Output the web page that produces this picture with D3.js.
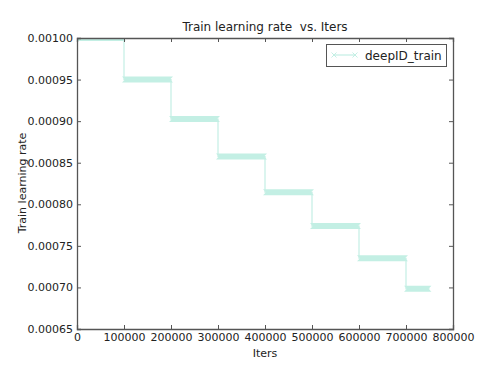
<html>
<script src='https://d3js.org/d3.v7.min.js'></script>
<style>
body {margin: 0; background: white;}
text {font-family: "DejaVu Sans", sans-serif; fill: #222; white-space: pre;}
</style>
<body>
<svg width=487 height=368></svg>
<script>
// step starts / ends (iters) and learning rate held on each step
var stepStart = [0, 100000, 200000, 300000, 400000, 500000, 600000, 700000];
var stepEnd   = [100000, 200000, 300000, 400000, 500000, 600000, 700000, 750000];
var lrValues  = [0.001, 0.00095, 0.0009025, 0.000857375, 0.00081450625, 0.000773781, 0.000735092, 0.000698337];
var xTicks = [0, 100000, 200000, 300000, 400000, 500000, 600000, 700000, 800000];
var yTicks = [0.00065, 0.00070, 0.00075, 0.00080, 0.00085, 0.00090, 0.00095, 0.00100];

var mLeft = 77, mRight = 453, mTop = 38, mBottom = 329;
var x = d3.scaleLinear().domain([0, 800000]).range([mLeft, mRight]);
var y = d3.scaleLinear().domain([0.00065, 0.001]).range([mBottom, mTop]);

var svg = d3.select("svg");
svg.append("clipPath").attr("id", "clip")
  .append("rect").attr("x", mLeft).attr("y", mTop).attr("width", mRight - mLeft).attr("height", mBottom - mTop);

var col = "#c3efe4";
var plot = svg.append("g").attr("clip-path", "url(#clip)");

// thin step line
var pts = [];
lrValues.forEach(function(v, i) { pts.push([stepStart[i], v]); pts.push([stepEnd[i], v]); });
plot.append("path")
  .attr("d", d3.line().x(d => x(d[0])).y(d => y(d[1]))(pts))
  .attr("fill", "none").attr("stroke", col).attr("stroke-width", 1.2);

// thick bands (dense x markers in the original)
plot.selectAll("path.band").data(lrValues).enter().append("path")
  .attr("class", "band")
  .attr("d", function(v, i) {
    var x0 = x(stepStart[i]) - 2, x1 = x(stepEnd[i]) + 2, yy = y(v);
    return "M" + x0 + "," + (yy - 3) + "L" + (x0 + 3) + "," + yy + "L" + x0 + "," + (yy + 3) +
           "L" + x1 + "," + (yy + 3) + "L" + (x1 - 3) + "," + yy + "L" + x1 + "," + (yy - 3) + "Z";
  })
  .attr("fill", col);

// axes frame with inward ticks on all sides
var ax = "#555";
svg.append("g").attr("transform", "translate(0," + mBottom + ")")
  .call(d3.axisBottom(x).tickValues(xTicks).tickSize(-4).tickPadding(4).tickFormat(d3.format("d")));
svg.append("g").attr("transform", "translate(0," + mTop + ")")
  .call(d3.axisTop(x).tickValues(xTicks).tickSize(-4).tickFormat(""));
svg.append("g").attr("transform", "translate(" + mLeft + ",0)")
  .call(d3.axisLeft(y).tickValues(yTicks).tickSize(-4).tickPadding(4).tickFormat(d3.format(".5f")));
svg.append("g").attr("transform", "translate(" + mRight + ",0)")
  .call(d3.axisRight(y).tickValues(yTicks).tickSize(-4).tickFormat(""));
svg.selectAll(".domain").attr("stroke", ax).attr("stroke-width", 1.3);
svg.selectAll(".tick line").attr("stroke", ax);
svg.selectAll(".tick text").style("font-family", "DejaVu Sans, sans-serif").style("font-size", "11px").attr("fill", "#222");
svg.selectAll(".domain").raise();

// titles
svg.append("text").attr("x", 265).attr("y", 31).attr("text-anchor", "middle")
  .style("font-size", "12px").text("Train learning rate  vs. Iters");
svg.append("text").attr("x", 265).attr("y", 357).attr("text-anchor", "middle")
  .style("font-size", "11px").text("Iters");
svg.append("text").attr("transform", "translate(26,183) rotate(-90)").attr("text-anchor", "middle")
  .style("font-size", "11px").text("Train learning rate");

// legend
var lg = svg.append("g");
lg.append("rect").attr("x", 326.5).attr("y", 44.5).attr("width", 120).attr("height", 22)
  .attr("fill", "white").attr("stroke", ax).attr("stroke-width", 1);
lg.append("line").attr("x1", 334).attr("x2", 355).attr("y1", 55).attr("y2", 55)
  .attr("stroke", col).attr("stroke-width", 1.2);
[334, 355].forEach(function(cx) {
  lg.append("path").attr("d", "M" + (cx - 2.5) + ",52.5L" + (cx + 2.5) + ",57.5M" + (cx - 2.5) + ",57.5L" + (cx + 2.5) + ",52.5")
    .attr("stroke", col).attr("stroke-width", 1);
});
lg.append("text").attr("x", 365).attr("y", 59.5).style("font-size", "12px").text("deepID_train");
</script>
</body>
</html>
